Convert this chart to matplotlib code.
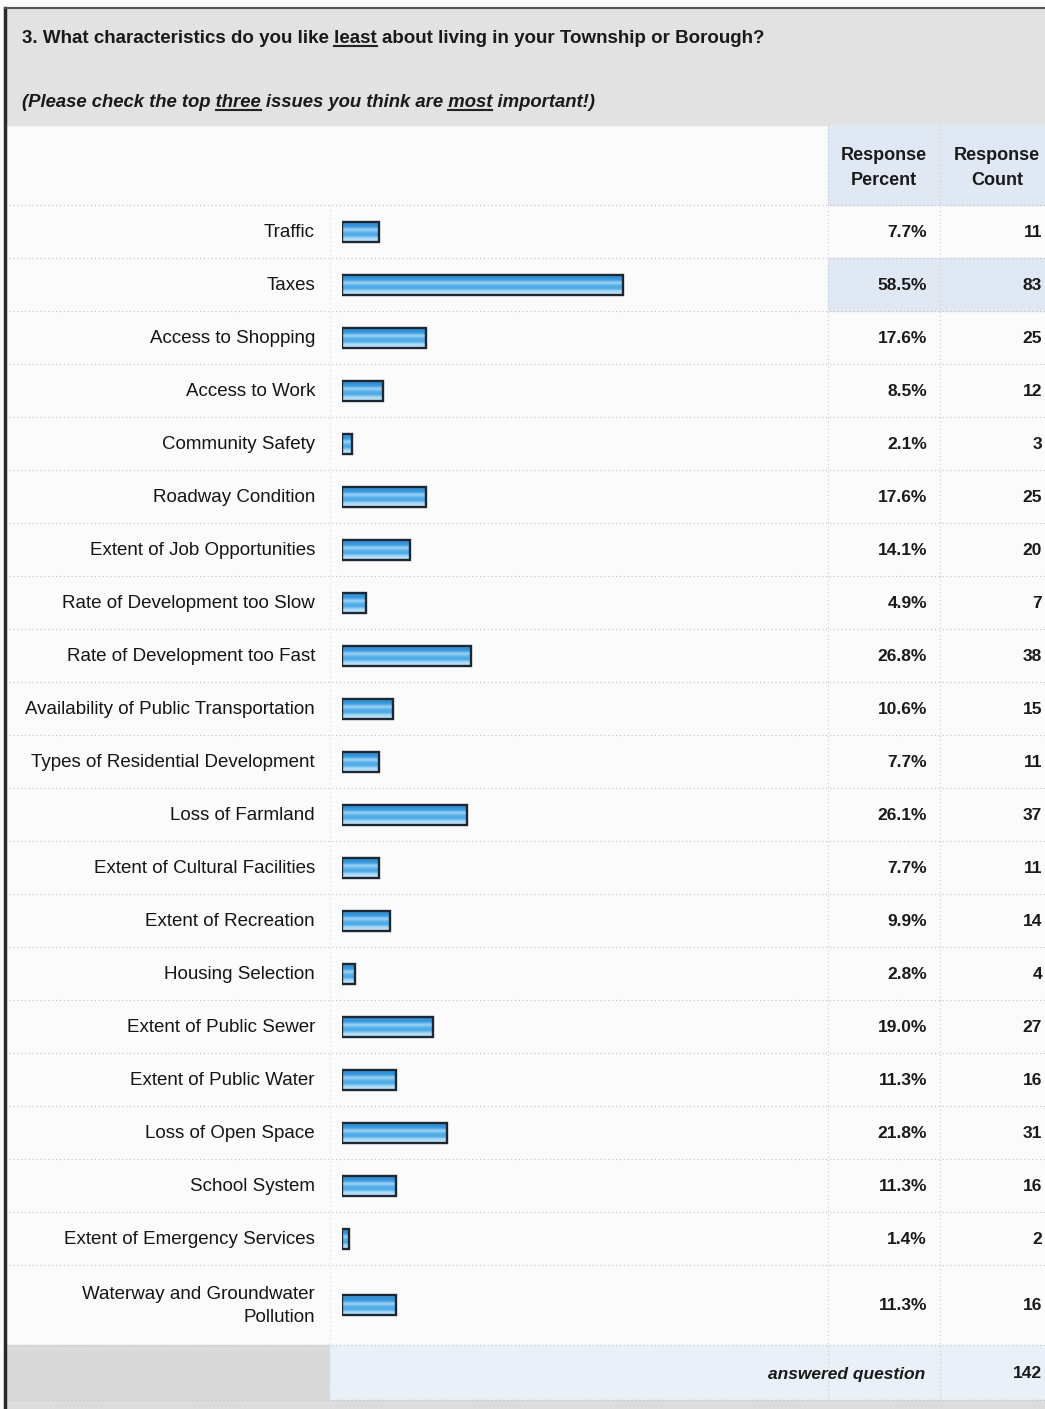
import numpy as np
import matplotlib.pyplot as plt
from matplotlib.colors import LinearSegmentedColormap

plt.rcParams['font.family'] = ['Liberation Sans', 'DejaVu Sans']

# survey data
labels = ["Traffic", "Taxes", "Access to Shopping", "Access to Work", "Community Safety",
          "Roadway Condition", "Extent of Job Opportunities", "Rate of Development too Slow",
          "Rate of Development too Fast", "Availability of Public Transportation",
          "Types of Residential Development", "Loss of Farmland", "Extent of Cultural Facilities",
          "Extent of Recreation", "Housing Selection", "Extent of Public Sewer",
          "Extent of Public Water", "Loss of Open Space", "School System",
          "Extent of Emergency Services", "Waterway and Groundwater\nPollution"]
percent = [7.7, 58.5, 17.6, 8.5, 2.1, 17.6, 14.1, 4.9, 26.8, 10.6, 7.7, 26.1, 7.7, 9.9,
           2.8, 19.0, 11.3, 21.8, 11.3, 1.4, 11.3]
counts = [11, 83, 25, 12, 3, 25, 20, 7, 38, 15, 11, 37, 11, 14, 4, 27, 16, 31, 16, 2, 16]
answered = 142

title = "3. What characteristics do you like least about living in your Township or Borough?"
subtitle = "(Please check the top three issues you think are most important!)"

W, H = 1045, 1409
fig = plt.figure(figsize=(W / 100, H / 100), dpi=100)
fig.patch.set_facecolor('#fbfbfb')
ax = fig.add_axes([0, 0, 1, 1])
ax.set_xlim(0, W)
ax.set_ylim(H, 0)
ax.axis('off')

# row layout (pixels)
head_top, head_bot = 125, 205
row_h = 53
tops = [head_bot + i * row_h for i in range(len(labels))]
heights = [row_h] * (len(labels) - 1) + [80]
centers = [t + h / 2 for t, h in zip(tops, heights)]
body_bot = tops[-1] + heights[-1]
col_pct, col_cnt = 828, 940

gray = '#e2e2e2'
blue_cell = '#dfe8f3'
ax.add_patch(plt.Rectangle((5, 8), W - 5, head_top - 8, color=gray, zorder=0))
ax.add_patch(plt.Rectangle((col_pct, head_top), W - col_pct, head_bot - head_top,
                           color=blue_cell, zorder=0))
# highlighted row (Taxes)
ax.add_patch(plt.Rectangle((col_pct, tops[1]), W - col_pct, heights[1], color=blue_cell, zorder=0))
# answered question row
ax.add_patch(plt.Rectangle((5, body_bot), 325, 55, color='#d9d9d9', zorder=0))
ax.add_patch(plt.Rectangle((330, body_bot), W - 330, 55, color='#e9f0f8', zorder=0))
ax.add_patch(plt.Rectangle((5, body_bot + 55), W - 5, H - body_bot - 55, color='#dcdcdc', zorder=0))

# borders
ax.plot([5, 5], [8, H], color='#2a2a2a', lw=2.5, zorder=5)
ax.plot([5, W], [8, 8], color='#555555', lw=1.5, zorder=5)

# dotted separators
for y in [head_bot] + [t + h for t, h in zip(tops, heights)] + [body_bot + 55]:
    ax.plot([5, W], [y, y], color='#c2c2c2', lw=0.8, ls=(0, (1, 2.5)), zorder=1)
for x in [col_pct, col_cnt]:
    ax.plot([x, x], [head_top, body_bot + 55], color='#cccccc', lw=0.8, ls=(0, (1, 2.5)), zorder=1)
ax.plot([330, 330], [head_bot, body_bot + 55], color='#dddddd', lw=0.8, ls=(0, (1, 3)), zorder=1)


def underlined_text(x, y, full, words, **kw):
    t = ax.text(x, y, full, ha='left', va='baseline', **kw)
    r = fig.canvas.get_renderer()
    for w in words:
        i = full.index(w) + len(w)
        tmp1 = ax.text(x, y, full[:i], **kw)
        tmp2 = ax.text(x, y, w, **kw)
        end = tmp1.get_window_extent(r).width
        start = end - tmp2.get_window_extent(r).width
        tmp1.remove()
        tmp2.remove()
        ax.plot([x + start, x + end], [y + 3, y + 3], color='#222222', lw=1.5, zorder=6)
    return t


underlined_text(22, 43, title, ["least"], fontsize=13.5, fontweight='bold', color='#1a1a1a')
underlined_text(22, 107, subtitle, ["three", "most"], fontsize=13.3, fontweight='bold',
                style='italic', color='#1a1a1a')

# column headers
hdr = dict(fontsize=13, fontweight='bold', color='#1a1a1a', ha='center', va='center',
           linespacing=1.55)
ax.text(884, 168, "Response\nPercent", **hdr)
ax.text(997, 168, "Response\nCount", **hdr)

# row labels and values
for lab, p, c, y in zip(labels, percent, counts, centers):
    ax.text(315, y + 1, lab, ha='right', va='center', fontsize=13.5, color='#151515',
            multialignment='right', linespacing=1.5)
    ax.text(927, y + 1, f"{p:.1f}%", ha='right', va='center', fontsize=12.5,
            fontweight='bold', color='#1a1a1a')
    ax.text(1042, y + 1, str(c), ha='right', va='center', fontsize=12.5,
            fontweight='bold', color='#1a1a1a')

ax.text(925, body_bot + 29, "answered question", ha='right', va='center', fontsize=12.5,
        fontweight='bold', style='italic', color='#1a1a1a')
ax.text(1042, body_bot + 29, str(answered), ha='right', va='center', fontsize=12.5,
        fontweight='bold', color='#1a1a1a')

# bar axes: 4.8 px per percent, starting at x=342
px_per_pct = 4.8
bx0, bx1 = 342, col_pct
bax = fig.add_axes([bx0 / W, 1 - body_bot / H, (bx1 - bx0) / W, (body_bot - head_bot) / H])
bax.patch.set_alpha(0)
bax.axis('off')
xmax = (bx1 - bx0) / px_per_pct

cmap = LinearSegmentedColormap.from_list(
    'bar', ['#5aaee6', '#2f8fd6', '#3d9de0', '#9fd3f4', '#5ab2ea', '#4aa8e6', '#a8d8f6', '#bfe4fa'])
grad = np.linspace(0, 1, 64).reshape(-1, 1)
bar_h = 20
bars = bax.barh(centers, percent, height=bar_h, left=0, facecolor='none',
                edgecolor='#1c2733', linewidth=1.7, zorder=3)
for b in bars:
    x0, y0 = b.get_x(), b.get_y()
    im = bax.imshow(grad, cmap=cmap, aspect='auto', zorder=2,
                    extent=[x0, x0 + b.get_width(), y0, y0 + b.get_height()], origin='lower')
    im.set_clip_path(b)
bax.set_xlim(0, xmax)
bax.set_ylim(body_bot, head_bot)

fig.savefig('out.png', dpi=100, facecolor=fig.get_facecolor())
